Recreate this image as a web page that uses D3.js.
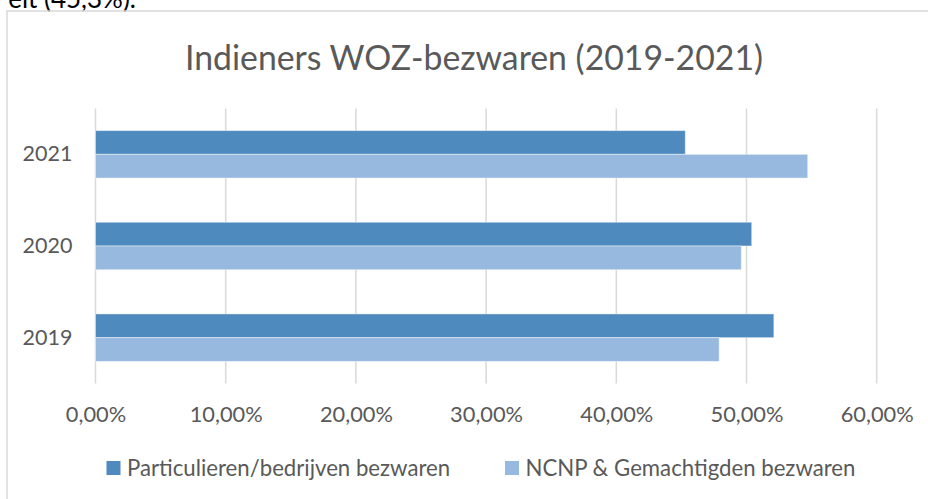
<!DOCTYPE html>
<html>
<head>
<meta charset="utf-8">
<script src="https://cdn.jsdelivr.net/npm/d3@7"></script>
<style>
	body { margin: 0; background: #fff; }
	svg { display: block; }
	text { font-family: Lato, "Open Sans", sans-serif; fill: #595959; }
</style>
</head>
<body>
<div id="chart"></div>
<script>

// data
var years = ["2021", "2020", "2019"];
var series = ["Particulieren/bedrijven bezwaren", "NCNP & Gemachtigden bezwaren"];
var particulieren = [0.453, 0.504, 0.521];
var ncnp = [0.547, 0.496, 0.479];
var ticks = [0, 0.1, 0.2, 0.3, 0.4, 0.5, 0.6];
var colors = ["#4f8abe", "#97b8df"];

var width = 928, height = 499;

var svg = d3.select("#chart").append("svg")
	.attr("width", width)
	.attr("height", height);

// piece of the surrounding document text, cut off at the top
svg.append("text")
	.attr("x", 136)
	.attr("y", 7.5)
	.attr("text-anchor", "end")
	.style("font-size", "26px")
	.style("fill", "#000")
	.text("elt (45,3%).");

// chart frame
svg.append("rect")
	.attr("x", 7)
	.attr("y", 11)
	.attr("width", 940)
	.attr("height", 510)
	.attr("fill", "none")
	.attr("stroke", "#d9d9d9")
	.attr("stroke-width", 1.5);

var x = d3.scaleLinear().domain([0, 0.6]).range([95.5, 876.7]);

var y = d3.scaleBand().domain(years).range([108.5, 383.5])
	.paddingInner(0.482).paddingOuter(0.241);

var ySub = d3.scaleBand().domain(series).range([0, y.bandwidth()]);

// title
svg.append("text")
	.attr("x", 474)
	.attr("y", 69.5)
	.attr("text-anchor", "middle")
	.style("font-size", "33.8px")
	.text("Indieners WOZ-bezwaren (2019-2021)");

// gridlines
svg.append("g").selectAll("line")
	.data(ticks)
	.enter().append("line")
	.attr("x1", function(d) { return x(d); })
	.attr("x2", function(d) { return x(d); })
	.attr("y1", 108.5)
	.attr("y2", 383.5)
	.attr("stroke", "#d9d9d9")
	.attr("stroke-width", 1.5);

// x axis labels
var fmt = function(d) { return (d * 100).toFixed(2).replace(".", ",") + "%"; };
var xAxis = svg.append("g")
	.attr("transform", "translate(0,383.5)")
	.call(d3.axisBottom(x).tickValues(ticks).tickFormat(fmt).tickSize(0).tickPadding(23));
xAxis.select(".domain").remove();
xAxis.selectAll("text")
	.style("font-size", "21.8px")
	.style("font-family", "Lato, sans-serif")
	.attr("fill", "#595959");

// y axis labels
var yAxis = svg.append("g")
	.attr("transform", "translate(95.5,0)")
	.call(d3.axisLeft(y).tickSize(0).tickPadding(23));
yAxis.select(".domain").remove();
yAxis.selectAll("text")
	.style("font-size", "21.5px")
	.style("font-family", "Lato, sans-serif")
	.attr("fill", "#595959");

// bars
var rows = years.map(function(yr, i) {
	return { year: yr, values: [particulieren[i], ncnp[i]] };
});

var groups = svg.append("g").selectAll("g")
	.data(rows)
	.enter().append("g")
	.attr("transform", function(d) { return "translate(0," + y(d.year) + ")"; });

groups.selectAll("rect")
	.data(function(d) { return d.values.map(function(v, j) { return { s: series[j], v: v, j: j }; }); })
	.enter().append("rect")
	.attr("x", x(0))
	.attr("y", function(d) { return ySub(d.s); })
	.attr("width", function(d) { return x(d.v) - x(0); })
	.attr("height", ySub.bandwidth())
	.attr("fill", function(d) { return colors[d.j]; })
	.attr("stroke", "#ffffff")
	.attr("stroke-opacity", 0.45)
	.attr("stroke-width", 1);

// legend
var legendX = [106.5, 505];
var legend = svg.append("g").selectAll("g")
	.data(series)
	.enter().append("g")
	.attr("transform", function(d, i) { return "translate(" + legendX[i] + ",461)"; });

legend.append("rect")
	.attr("width", 14)
	.attr("height", 14)
	.attr("fill", function(d, i) { return colors[i]; });

legend.append("text")
	.attr("x", 20.5)
	.attr("y", 14.5)
	.style("font-size", "22.2px")
	.text(function(d) { return d; });

</script>
</body>
</html>
